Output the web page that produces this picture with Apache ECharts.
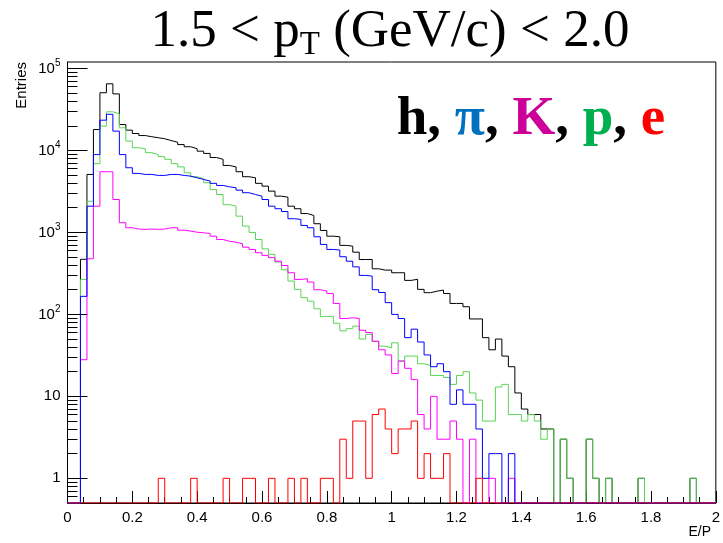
<!DOCTYPE html>
<html><head><meta charset="utf-8">
<script src="https://cdn.jsdelivr.net/npm/echarts@6.0.0/dist/echarts.min.js"></script>
<style>html,body{margin:0;padding:0;background:#fff}#c{width:723px;height:543px}</style>
</head><body><div id="c"></div>
<script>
// ---- data (E/P histograms, bin width 0.02, 100 bins from 0 to 2) ----
const BIN_WIDTH = 0.02;
const X_MIN = 0, X_MAX = 2;
const Y_MIN = 0.5, Y_MAX = 1.2e5;
const yMajorTicks = [1, 10, 100, 1000, 10000, 100000];
const yMinorTicks = [0.6,0.7,0.8,0.9,2,3,4,5,6,7,8,9,20,30,40,50,60,70,80,90,
  200,300,400,500,600,700,800,900,2000,3000,4000,5000,6000,7000,8000,9000,
  20000,30000,40000,50000,60000,70000,80000,90000];

const hadrons = [0,0,470,5100,18000,50600,65000,49000,20700,17700,
  16100,15200,14700,14300,13900,13200,12600,11800,11100,10500,
  9800,9200,8200,7800,6560,6300,5500,4780,4640,3970,
  3670,3190,2770,2690,2090,1945,1700,1610,1277,1057,
  900,885,695,680,574,467,467,360,347,347,
  322,322,260,268,202,184,192,198,180,136,
  136,124,88,88,52,37,50,31,23,11,
  7,6,6,4,4,0,3,1,0,0,
  3,1,0,1,0,0,0,0,1,0,
  0,0,0,0,0,0,1,0,0,0];
const protons = [0,0,267,2400,6900,19800,29600,28000,18900,13000,
  10800,10500,9400,8900,8400,7800,6900,6300,5340,4780,
  4520,4035,3340,2900,2180,2090,1580,1195,1000,820,
  630,540,435,350,255,202,160,145,117,94,
  95,78,63,67,72,50,57,47,41,39,
  45,27,31,31,25,24,18,18,17,14,
  18,20,11,9,5,5,13,14,6,6,
  5,6,5,3,4,0,3,1,0,0,
  3,1,0,1,0,0,0,0,1,0,
  0,0,0,0,0,0,1,0,0,0];
const pions = [0,0,166,2090,8900,23400,27600,17200,8900,6150,
  5250,5100,5100,4960,4960,5100,5100,4960,4860,4640,
  4430,4240,3970,3740,3600,3510,3280,3050,2900,2770,
  2520,2090,1945,1800,1470,1440,1217,1140,885,714,
  620,610,505,445,380,299,293,200,185,139,
  100,89,52,66,46,32,23,25,20,8,
  12,8,8,4,1,2,2,0,2,0,
  0,0,0,0,0,0,0,0,0,0,
  0,0,0,0,0,0,0,0,0,0,
  0,0,0,0,0,0,0,0,0,0];
const kaons = [0,0,28,477,2090,5500,5500,2520,1313,1140,
  1100,1090,1100,1090,1100,1140,1140,1065,1038,1005,
  990,970,900,820,780,760,727,660,620,565,
  525,492,445,395,322,267,272,248,200,192,
  180,136,89,91,89,64,60,47,37,32,
  19,27,22,16,6,4,10,3,3,5,
  3,0,3,0,0,1,0,0,1,0,
  0,0,0,0,0,0,0,0,0,0,
  0,0,0,0,0,0,0,0,0,0,
  0,0,0,0,0,0,0,0,0,0];
const electrons = [0,0,0,0,0,0,0,0,0,0,
  0,0,0,0,1,0,0,0,0,1,
  0,0,0,0,1,0,0,1,1,0,
  0,1,0,0,1,0,1,0,0,1,
  1,0,3,1,5,5,1,6,7,4,
  2,4,4,5,1,2,1,1,2,0,
  0,0,0,1,0,0,0,0,0,0,
  0,0,0,0,0,0,0,0,0,0,
  0,0,0,0,0,0,0,0,0,0,
  0,0,0,0,0,0,0,0,0,0];

// ---- build step-histogram point lists (bin low edges + closing edge) ----
function hist(vals) {
  const pts = vals.map((v, i) => [+(i * BIN_WIDTH).toFixed(4), v > 0 ? v : Y_MIN]);
  const last = vals[vals.length - 1];
  pts.push([+(vals.length * BIN_WIDTH).toFixed(4), last > 0 ? last : Y_MIN]);
  return pts;
}
function line(name, vals, color, z) {
  return { name, type: 'line', step: 'end', symbol: 'none', data: hist(vals), clip: true,
    lineStyle: { color, width: 1 }, itemStyle: { color }, animation: false, z: z };
}

const chart = echarts.init(document.getElementById('c'), null, { renderer: 'canvas' });
const SANS = 'Liberation Sans';
const SERIF = 'Liberation Serif';
const yAxisBase = { type: 'log', logBase: 10, min: Y_MIN, max: Y_MAX, position: 'left', splitLine: { show: false } };
const LF = 55;
chart.setOption({
  animation: false,
  backgroundColor: '#fff',
  grid: { left: 67.5, right: 5.5, top: 62, bottom: 40, show: true, borderColor: '#000', borderWidth: 1, backgroundColor: 'transparent' },
  xAxis: {
    type: 'value', min: X_MIN, max: X_MAX, interval: 0.2,
    axisLine: { show: true, lineStyle: { color: '#000', width: 1 } },
    axisTick: { show: true, inside: true, length: 12, lineStyle: { color: '#000' } },
    minorTick: { show: true, splitNumber: 4, length: 6, lineStyle: { color: '#000' } },
    axisLabel: { color: '#000', fontFamily: SANS, fontSize: 15, margin: 7 },
    splitLine: { show: false }
  },
  yAxis: [
    Object.assign({}, yAxisBase, {
      axisLine: { show: true, lineStyle: { color: '#000', width: 1 } },
      axisTick: { show: true, inside: true, length: 20, customValues: yMajorTicks, lineStyle: { color: '#000' } },
      axisLabel: {
        customValues: yMajorTicks, color: '#000', fontFamily: SANS, fontSize: 15, margin: 7,
        formatter: v => { const e = Math.round(Math.log10(v)); return e === 0 ? '1' : e === 1 ? '10' : '10{sup|' + e + '}'; },
        rich: { sup: { fontSize: 10, fontFamily: SANS, color: '#000', padding: [0, 0, 10, 0] } }
      }
    }),
    Object.assign({}, yAxisBase, {
      axisLine: { show: false },
      axisTick: { show: true, inside: true, length: 10, customValues: yMinorTicks, lineStyle: { color: '#000' } },
      axisLabel: { show: false }
    })
  ],
  series: [
    line('h', hadrons, '#000000', 3),
    line('p', protons, '#59d454', 4),
    line('K', kaons, '#ff00ff', 5),
    line('pi', pions, '#0000ff', 6),
    line('e', electrons, '#ff0000', 7)
  ],
  graphic: [
    { type: 'text', x: 390, y: 32, style: {
        text: '{a|1.5 < p}{s|T}{a| (GeV/c) < 2.0}', align: 'center', verticalAlign: 'middle',
        rich: { a: { fontFamily: SERIF, fontSize: 53, fill: '#000' },
                s: { fontFamily: SERIF, fontSize: 33, fill: '#000', padding: [27, 0, 0, 0] } } } },
    { type: 'text', x: 531, y: 120, style: {
        text: '{h|h}{c|, }{pi|π}{c|, }{k|K}{c|, }{p|p}{c|, }{e|e}', align: 'center', verticalAlign: 'middle',
        rich: { h: { fontFamily: SERIF, fontWeight: 'bold', fontSize: LF, fill: '#000' },
                c: { fontFamily: SERIF, fontWeight: 'bold', fontSize: LF, fill: '#000' },
                pi: { fontFamily: SERIF, fontWeight: 'bold', fontSize: LF, fill: '#0070c0' },
                k: { fontFamily: SERIF, fontWeight: 'bold', fontSize: LF, fill: '#cc0099' },
                p: { fontFamily: SERIF, fontWeight: 'bold', fontSize: LF, fill: '#00b050' },
                e: { fontFamily: SERIF, fontWeight: 'bold', fontSize: LF, fill: '#ff0000' } } } },
    { type: 'text', x: 22, y: 62, rotation: Math.PI / 2, style: {
        text: 'Entries', align: 'right', verticalAlign: 'middle', fontFamily: SANS, fontSize: 15, fill: '#000' } },
    { type: 'text', x: 711, y: 532, style: {
        text: 'E/P', align: 'right', verticalAlign: 'middle', fontFamily: SANS, fontSize: 14, fill: '#000' } }
  ]
});
</script></body></html>
